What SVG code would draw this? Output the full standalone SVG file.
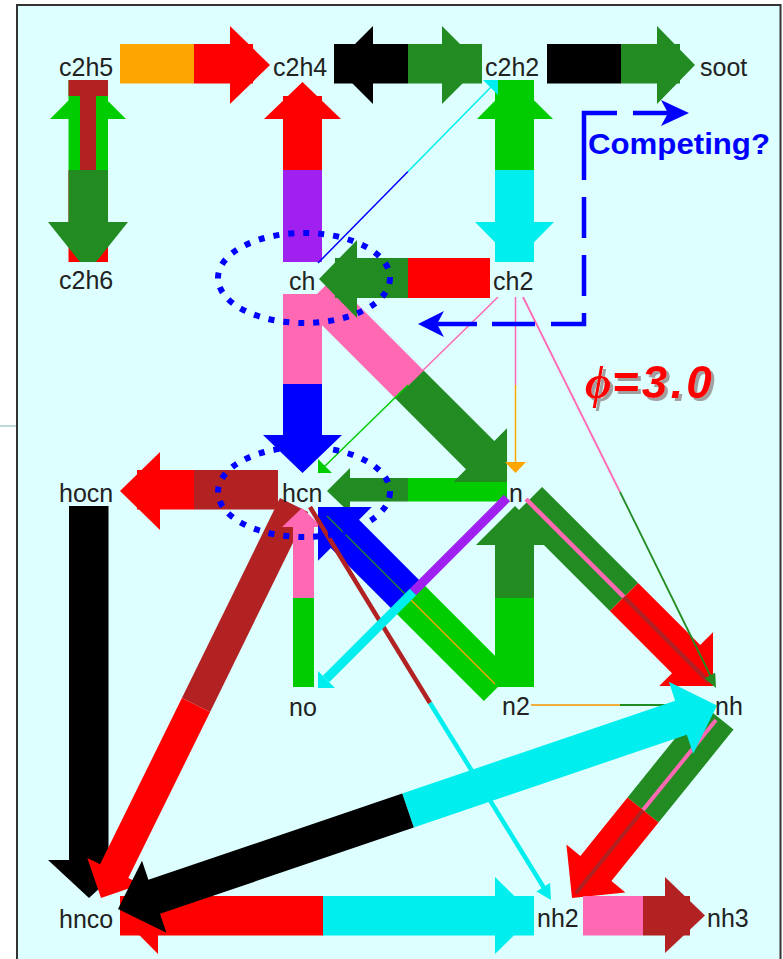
<svg xmlns="http://www.w3.org/2000/svg" width="783" height="959" viewBox="0 0 783 959">
<style>
.r{fill:#ff0000}.o{fill:#ffa500}.k{fill:#000}.dg{fill:#228b22}.g{fill:#00cc00}.br{fill:#b22222}.pu{fill:#a020f0}.c{fill:#00eeee}.pk{fill:#ff69b4}.b{fill:#0000ff}
.lbl{font-family:"Liberation Sans",Arial,sans-serif;font-size:25px;fill:#222}
.t{fill:none;stroke-linecap:butt}
.dash{fill:none;stroke:#0000ff;stroke-width:4.5;stroke-linecap:butt}
.dot{fill:none;stroke:#0000ff;stroke-width:6;stroke-dasharray:6 9}
</style>
<defs>
<filter id="sh" x="-10%" y="-10%" width="130%" height="130%">
<feDropShadow dx="3" dy="3" stdDeviation="0.4" flood-color="#a0a0a0" flood-opacity="1"/>
</filter>
</defs>
<rect x="0" y="0" width="783" height="959" fill="#fff"/>
<rect x="17" y="5" width="763.5" height="1000" fill="#ddffff" stroke="#333" stroke-width="2"/>
<line x1="0" y1="426" x2="16" y2="426" stroke="#a8ccd0" stroke-width="1.5"/>
<g id="connectors">
<!-- c2h5 -> c2h4 -->
<rect class="o" x="120" y="44" width="74" height="39.5"/>
<rect class="r" x="194" y="44" width="59" height="39.5"/>
<polygon class="r" points="230,26 270,65 230,104"/>
<!-- c2h4 <-> c2h2 -->
<rect class="k" x="334" y="44" width="74" height="39.5"/>
<polygon class="k" points="373,26 334,65 373,104"/>
<rect class="dg" x="408" y="44" width="74" height="39.5"/>
<polygon class="dg" points="442,26 481,65 442,104"/>
<!-- c2h2 -> soot -->
<rect class="k" x="547" y="44" width="74" height="39.5"/>
<rect class="dg" x="621" y="44" width="59" height="39.5"/>
<polygon class="dg" points="657,26 695,65 657,104"/>
<!-- c2h5 <-> c2h6 -->
<rect class="r" x="68.5" y="170" width="39.5" height="92"/>
<rect class="g" x="68.5" y="80" width="39.5" height="90"/>
<polygon class="g" points="50,119 88,81 126,119"/>
<rect class="br" x="68.5" y="80" width="39.5" height="16"/>
<rect class="br" x="80" y="96" width="16" height="74"/>
<rect class="dg" x="68.5" y="170" width="39.5" height="52"/>
<polygon class="dg" points="48,222 128,222 96,262 80,262"/>
<!-- ch -> c2h4 -->
<rect class="pu" x="283" y="170" width="39" height="92"/>
<rect class="r" x="283" y="96" width="39" height="74"/>
<polygon class="r" points="264,119 302.5,82 341,119"/>
<!-- c2h2 <-> ch2 -->
<rect class="g" x="495" y="80" width="39" height="90"/>
<polygon class="g" points="477,119 514.5,81 553,119"/>
<rect class="c" x="495" y="170" width="39" height="92"/>
<polygon class="c" points="475,222 554,222 514.5,262"/>
<!-- ch -> hcn -->
<rect class="pk" x="283" y="294" width="39" height="90"/>
<rect class="b" x="283" y="384" width="39" height="60"/>
<polygon class="b" points="263,435 342,435 302.5,473"/>
<!-- n -> hcn -->
<rect class="g" x="408" y="478" width="99" height="23.5"/>
<rect class="dg" x="340" y="478" width="68" height="23.5"/>
<polygon class="dg" points="350,468 350,513 327,491"/>
<!-- ch -> n -->
<polygon class="pk" points="332.1,278.9 423.1,369.9 394.9,398.1 303.9,307.1"/>
<polygon class="dg" points="423.1,369.9 494.3,441 507,428.3 507,482 453.3,482 466,469.3 394.9,398.1"/>
<!-- ch2 -> ch -->
<rect class="r" x="408" y="258" width="82" height="40"/>
<rect class="dg" x="335" y="258" width="73" height="40"/>
<polygon class="dg" points="357,240 357,318 319,279"/>
<!-- hcn -> hocn -->
<rect class="br" x="194" y="470" width="84" height="39.5"/>
<rect class="r" x="137" y="470" width="57" height="39.5"/>
<polygon class="r" points="160,452 160,530 120,491"/>
<!-- hocn -> hnco -->
<rect class="k" x="69" y="506" width="39.5" height="364"/>
<polygon class="k" points="48,860 130,860 89,898"/>
<!-- hcn -> hnco -->
<polygon class="br" points="308.1,511.9 210.1,711.9 181.9,698.1 279.9,498.1"/>
<polygon class="r" points="210.1,711.9 128.3,878 141.1,884.3 101,898 87.3,857.9 100.1,864.2 181.9,698.1"/>
<!-- no -> hcn -->
<rect class="g" x="293" y="598" width="21" height="89"/>
<rect class="pk" x="293" y="522" width="21" height="76"/>
<polygon class="pk" points="282,527 322,527 302,508"/>
<!-- n2 -> hcn -->
<polygon class="b" points="318,507 371.8,507 359,519.8 423.1,583.9 394.9,612.1 330.8,548 318,560.8"/>
<polygon class="g" points="423.1,583.9 512.1,672.9 483.9,701.1 394.9,612.1"/>
<line class="t" x1="327" y1="516" x2="409" y2="598" stroke="#228b22" stroke-width="1.3"/>
<line class="t" x1="409" y1="598" x2="498" y2="687" stroke="#ffa500" stroke-width="1.3"/>
<!-- n2 -> n -->
<rect class="g" x="495" y="598" width="39" height="89"/>
<rect class="dg" x="495" y="535" width="39" height="63"/>
<polygon class="dg" points="476,545 554,545 515,506"/>
<!-- n -> nh -->
<polygon class="dg" points="542.1,486.9 638.1,582.9 609.9,611.1 513.9,515.1"/>
<polygon class="r" points="638.1,582.9 700.2,645 713,632.2 713,686 659.2,686 672,673.2 609.9,611.1"/>
<line class="t" x1="526" y1="499" x2="624" y2="597" stroke="#ff69b4" stroke-width="4.5"/>
<line class="t" x1="624" y1="597" x2="709" y2="682" stroke="#b22222" stroke-width="4.5"/>
<!-- hcn -> nh2 -->
<line class="t" x1="310" y1="507" x2="430" y2="703" stroke="#b22222" stroke-width="4.5"/>
<line class="t" x1="430" y1="703" x2="544" y2="888" stroke="#00eeee" stroke-width="4.5"/>
<polygon class="c" points="551,900 550,883 536.4,891.4"/>
<!-- n -> no -->
<line class="t" x1="507" y1="498" x2="413" y2="592" stroke="#a020f0" stroke-width="9"/>
<line class="t" x1="413" y1="592" x2="326" y2="679" stroke="#00eeee" stroke-width="9"/>
<polygon class="c" points="318,688 318,671 335,688"/>
<!-- hnco <-> nh2 -->
<rect class="r" x="120" y="896" width="203" height="39.5"/>
<polygon class="r" points="158,877 158,954 120,915.5"/>
<rect class="c" x="323" y="896" width="211" height="39.5"/>
<polygon class="c" points="495,877 495,954 534,915.5"/>
<!-- nh -> nh2 -->
<polygon class="dg" points="733.5,729.6 658.5,822.6 627.5,797.4 702.5,704.4"/>
<polygon class="r" points="658.5,822.6 611.4,881.1 625.4,892.4 572,898 566.4,844.6 580.4,855.9 627.5,797.4"/>
<line class="t" x1="716" y1="720" x2="643" y2="810" stroke="#ff69b4" stroke-width="4"/>
<line class="t" x1="643" y1="810" x2="576" y2="893" stroke="#b22222" stroke-width="4"/>
<!-- nh2 -> nh3 -->
<rect class="pk" x="583" y="896" width="60" height="39.5"/>
<rect class="br" x="643" y="896" width="47" height="39.5"/>
<polygon class="br" points="665,877 665,953 705,915.5"/>
<!-- thin lines -->
<line class="t" x1="318" y1="263" x2="408" y2="171.5" stroke="#0000ff" stroke-width="1.5"/>
<line class="t" x1="408" y1="171.5" x2="491" y2="87" stroke="#00eeee" stroke-width="1.5"/>
<polygon class="c" points="483,80 498,80 498,95"/>
<line class="t" x1="498" y1="297" x2="408" y2="385" stroke="#ff69b4" stroke-width="1.5"/>
<line class="t" x1="408" y1="385" x2="323" y2="468" stroke="#00cc00" stroke-width="1.5"/>
<polygon class="g" points="318,473 318,459 332,473"/>
<line class="t" x1="515.5" y1="297" x2="515.5" y2="385" stroke="#ff69b4" stroke-width="1.5"/>
<line class="t" x1="515.5" y1="385" x2="515.5" y2="463" stroke="#ffa500" stroke-width="1.5"/>
<polygon class="o" points="505,462 526,462 515.5,473"/>
<line class="t" x1="523" y1="297" x2="620" y2="492" stroke="#ff69b4" stroke-width="1.8"/>
<line class="t" x1="620" y1="492" x2="711" y2="677" stroke="#228b22" stroke-width="1.8"/>
<polygon class="dg" points="716,688 715.2,672.8 704.4,678.2"/>
<line class="t" x1="531" y1="705" x2="620" y2="705" stroke="#f0b040" stroke-width="2"/>
<line class="t" x1="620" y1="705" x2="702" y2="705" stroke="#228b22" stroke-width="2"/>
<polygon class="dg" points="700,698 712,705 700,712"/>
<!-- nh -> hnco -->
<polygon class="c" points="402.2,793.5 675.2,700.7 668.8,681.7 717,705.5 693.2,753.7 686.8,734.7 413.8,827.5"/>
<polygon class="k" points="402.2,793.5 413.8,827.5 160,913.8 166.4,932.8 118,909 142,860.8 148.4,879.8"/>
</g>
<g id="annotations">
<ellipse class="dot" cx="304" cy="278" rx="86" ry="45"/>
<ellipse class="dot" cx="304" cy="492" rx="86" ry="45"/>
<polyline class="dash" points="617,113 584,113 584,180"/>
<line class="dash" x1="633" y1="113" x2="676" y2="113"/>
<polygon class="b" points="689,113 661,100 668,113 661,126"/>
<line class="dash" x1="584" y1="197" x2="584" y2="238"/>
<line class="dash" x1="584" y1="255" x2="584" y2="296"/>
<polyline class="dash" points="584,313 584,324 551,324"/>
<line class="dash" x1="535" y1="324" x2="492" y2="324"/>
<line class="dash" x1="477" y1="324" x2="430" y2="324"/>
<polygon class="b" points="418,324 444,311 437,324 444,337"/>
<text x="588" y="154" font-family="Liberation Sans,Arial,sans-serif" font-size="30" font-weight="bold" fill="#0000ff" textLength="182" lengthAdjust="spacingAndGlyphs">Competing?</text>
<text x="585" y="398" font-weight="bold" font-style="italic" font-size="46" fill="#ff0000" filter="url(#sh)"><tspan font-family="Liberation Serif,DejaVu Serif,serif">ϕ</tspan><tspan x="612" font-family="Liberation Sans,Arial,sans-serif" letter-spacing="3">=3.0</tspan></text>
</g>
<g id="node-c2h5"><text class="lbl" x="59" y="76">c2h5</text></g>
<g id="node-c2h4"><text class="lbl" x="273" y="76">c2h4</text></g>
<g id="node-c2h2"><text class="lbl" x="485" y="76">c2h2</text></g>
<g id="node-soot"><text class="lbl" x="700" y="76">soot</text></g>
<g id="node-c2h6"><text class="lbl" x="59" y="289">c2h6</text></g>
<g id="node-ch"><text class="lbl" x="289" y="290">ch</text></g>
<g id="node-ch2"><text class="lbl" x="493" y="290">ch2</text></g>
<g id="node-hocn"><text class="lbl" x="59" y="502">hocn</text></g>
<g id="node-hcn"><text class="lbl" x="282" y="502">hcn</text></g>
<g id="node-n"><text class="lbl" x="509" y="502">n</text></g>
<g id="node-no"><text class="lbl" x="289" y="716">no</text></g>
<g id="node-n2"><text class="lbl" x="502" y="715">n2</text></g>
<g id="node-nh"><text class="lbl" x="715" y="715">nh</text></g>
<g id="node-hnco"><text class="lbl" x="59" y="928">hnco</text></g>
<g id="node-nh2"><text class="lbl" x="537" y="927">nh2</text></g>
<g id="node-nh3"><text class="lbl" x="707" y="927">nh3</text></g>
</svg>
